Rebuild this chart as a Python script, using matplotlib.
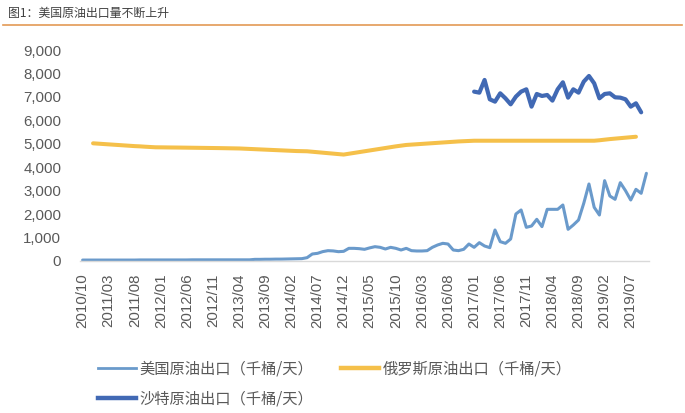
import matplotlib
matplotlib.use("Agg")
import matplotlib.pyplot as plt
from matplotlib.lines import Line2D
import numpy as np
import pandas as pd

plt.rcParams['font.family'] = ['Noto Sans CJK SC', 'DejaVu Sans']

# categories: monthly 2010/10 .. 2019/10
months = [p.strftime('%Y/%m') for p in pd.period_range('2010-10', '2019-10', freq='M')]

title = '图1：美国原油出口量不断上升'
us_label = '美国原油出口（千桶/天）'
ru_label = '俄罗斯原油出口（千桶/天）'
sa_label = '沙特原油出口（千桶/天）'

us_start = '2010/10'
us_values = [40] * 11 + [45] * 10 + [50] * 12 + [
    70, 70, 75, 75, 80, 80, 85, 90, 95, 100,
    142, 299, 327, 400, 441, 430, 398, 412, 540, 540, 526, 498, 560, 611, 583,
    512, 583, 540, 469, 540, 441, 427, 427, 441, 583, 683, 754, 725, 469, 441,
    498, 725, 583, 782, 640, 569, 1322, 825, 754, 939, 2005, 2176, 1436, 1493,
    1778, 1465, 2204, 2204, 2204, 2389, 1351, 1536, 1749, 2460, 3285, 2290,
    1962, 3427, 2773, 2631, 3342, 3000, 2602, 3057, 2887, 3740]

ru_start = '2010/12'
ru_values = [
    5020, 5005, 4990, 4975, 4960, 4945, 4930, 4915, 4900, 4890, 4875, 4862, 4850,
    4848, 4845, 4842, 4840, 4837, 4834, 4831, 4828, 4825, 4822, 4819, 4816, 4812,
    4808, 4804, 4800,
    4790, 4780, 4770, 4760, 4750, 4740, 4730, 4720, 4710, 4700, 4690, 4685, 4680,
    4660, 4640, 4620, 4600, 4580, 4560, 4540,
    4575, 4610, 4645, 4680, 4715, 4750, 4785, 4820, 4855, 4890, 4920, 4950,
    4965, 4980, 4995, 5010, 5025, 5040, 5055, 5070, 5085, 5100, 5110, 5120, 5130,
    5130, 5130, 5130, 5130, 5130, 5130, 5130, 5130, 5130, 5130, 5130, 5130, 5130,
    5130, 5130, 5130, 5130, 5130, 5130, 5130, 5130, 5130, 5130,
    5150, 5175, 5200, 5220, 5240, 5260, 5280, 5300]

sa_start = '2017/01'
sa_values = [7224, 7181, 7722, 6897, 6797, 7153, 6939, 6683, 7011, 7224, 7323,
             6584, 7124, 7039, 7082, 6840, 7323, 7622, 6968, 7323, 7181, 7651,
             7892, 7579, 6939, 7124, 7153, 6982, 6968, 6897, 6584, 6726, 6342]

yticks = [0, 1000, 2000, 3000, 4000, 5000, 6000, 7000, 8000, 9000]
tick_step = 5

US_C = '#6A9ACB'
RU_C = '#F5C04A'
SA_C = '#4169B4'

W, H = 685, 413
fig = plt.figure(figsize=(W / 100, H / 100), dpi=100)
ax = fig.add_axes([80 / W, (H - 261) / H, 569 / W, (261 - 50) / H])

def xs(start, vals):
    i0 = months.index(start)
    return np.arange(i0, i0 + len(vals))

l_us, = ax.plot(xs(us_start, us_values), us_values, color=US_C, lw=2.2,
                solid_capstyle='round', solid_joinstyle='round', label=us_label)
l_ru, = ax.plot(xs(ru_start, ru_values), ru_values, color=RU_C, lw=2.9,
                solid_capstyle='round', solid_joinstyle='round', label=ru_label)
l_sa, = ax.plot(xs(sa_start, sa_values), sa_values, color=SA_C, lw=3.0,
                solid_capstyle='round', solid_joinstyle='round', label=sa_label)

ax.set_xlim(-0.5, len(months) - 0.5)
ax.set_ylim(0, 9000)
ax.set_yticks(yticks)
ax.set_yticklabels([f'{v:,}' for v in yticks], family=['Liberation Sans', 'DejaVu Sans'],
                   fontsize=10.8, color='#595959')
tpos = list(range(0, len(months), tick_step))
ax.set_xticks(tpos)
ax.set_xticklabels([months[i] for i in tpos], rotation=90,
                   family=['Liberation Sans', 'DejaVu Sans'], fontsize=10.8, color='#595959')
ax.tick_params(axis='both', length=0)
ax.tick_params(axis='y', pad=13.5)
ax.tick_params(axis='x', pad=9)
for s in ['top', 'right', 'left']:
    ax.spines[s].set_visible(False)
ax.spines['bottom'].set_color('#D9D9D9')
ax.spines['bottom'].set_linewidth(1.0)

# title and rule
fig.text(8 / W, 1 - 13 / H, title, fontsize=8.6, color='#404040', va='center', ha='left')
fig.add_artist(Line2D([3 / W, 682 / W], [1 - 25 / H, 1 - 25 / H], color='#E39A55', lw=1.2))

h_us = Line2D([], [], color=US_C, lw=2.0)
h_ru = Line2D([], [], color=RU_C, lw=3.2)
h_sa = Line2D([], [], color=SA_C, lw=3.2)
# column-major fill: [US, Saudi] in column 1, [Russia] in column 2
leg = fig.legend([h_us, h_sa, h_ru], [us_label, sa_label, ru_label], ncol=2,
                 loc='upper left', bbox_to_anchor=(84 / W, 1 - 347 / H), frameon=False,
                 prop={'family': ['Noto Sans CJK SC', 'DejaVu Sans'], 'size': 11.0},
                 handlelength=2.5, handletextpad=0.25, columnspacing=1.8, labelspacing=0.85)
for t in leg.get_texts():
    t.set_color('#595959')

fig.savefig('out.png', dpi=100, facecolor='white')
